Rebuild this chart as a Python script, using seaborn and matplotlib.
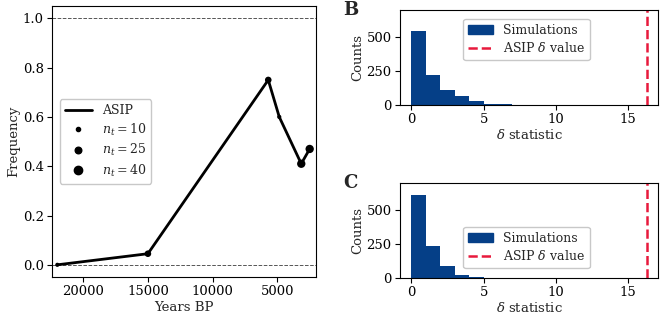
import numpy as np
import matplotlib
matplotlib.use("Agg")
import matplotlib.pyplot as plt
import seaborn as sns
from matplotlib.lines import Line2D
from matplotlib.patches import Patch

# ASIP allele frequency through time
years_bp = [22000, 15000, 5700, 4850, 3150, 2500]
asip_freq = [0.0, 0.045, 0.75, 0.60, 0.41, 0.47]
n_t = [10, 25, 25, 10, 40, 40]
legend_n = [10, 25, 40]

# simulated delta statistic histograms (counts per unit-width bin)
bin_edges = [0, 1, 2, 3, 4, 5, 6, 7]
counts_b = [544, 222, 111, 62, 27, 10, 5]
counts_c = [610, 237, 86, 24, 8, 3, 1]
asip_delta = 16.35

navy = "#053f87"
red = "#e8193c"
fs = 9.5
lfs = 9

sns.set_style("ticks")
plt.rcParams["font.family"] = ["DejaVu Serif"]
plt.rcParams["mathtext.fontset"] = "dejavuserif"
plt.rcParams["font.size"] = fs
plt.rcParams["axes.edgecolor"] = "black"
plt.rcParams["xtick.color"] = "black"
plt.rcParams["ytick.color"] = "black"
plt.rcParams["xtick.major.pad"] = 2.5
plt.rcParams["ytick.major.pad"] = 2.5
plt.rcParams["axes.labelpad"] = 1.5

fig = plt.figure(figsize=(6.6, 3.16), dpi=100)
ax_a = fig.add_axes([0.079, 0.123, 0.400, 0.858])
ax_b = fig.add_axes([0.606, 0.668, 0.391, 0.301])
ax_c = fig.add_axes([0.606, 0.120, 0.391, 0.301])

# panel A
ax_a.axhline(0, color="#555555", ls="--", lw=0.7, zorder=0)
ax_a.axhline(1, color="#555555", ls="--", lw=0.7, zorder=0)
sns.lineplot(x=years_bp, y=asip_freq, color="black", lw=2, ax=ax_a, sort=False)
k = 0.9
sns.scatterplot(x=years_bp, y=asip_freq, size=n_t, sizes=(k * 10, k * 40),
                size_norm=(10, 40), color="black", edgecolor="none",
                legend=False, ax=ax_a, zorder=3)
ax_a.set_xlim(22400, 2000)
ax_a.set_ylim(-0.05, 1.05)
ax_a.set_xticks([20000, 15000, 10000, 5000])
ax_a.set_yticks([0.0, 0.2, 0.4, 0.6, 0.8, 1.0])
ax_a.set_yticklabels(["0.0", "0.2", "0.4", "0.6", "0.8", "1.0"])
ax_a.set_xlabel("Years BP")
ax_a.set_ylabel("Frequency")
handles = [Line2D([], [], color="black", lw=2, label="ASIP")]
for n in legend_n:
    handles.append(Line2D([], [], ls="none", marker="o", color="black",
                          markersize=np.sqrt(k * n), label=rf"$n_t = {n}$"))
ax_a.legend(handles=handles, loc="center left", bbox_to_anchor=(0.005, 0.5),
            fontsize=lfs, frameon=True, edgecolor="#bbbbbb",
            labelspacing=0.35, handlelength=2.2)

# panels B and C
for ax, counts, label, loc in [(ax_b, counts_b, "B", "upper center"),
                               (ax_c, counts_c, "C", "lower center")]:
    centers = [e + 0.5 for e in bin_edges[:-1]]
    sns.histplot(x=centers, weights=counts, bins=bin_edges, color=navy,
                 alpha=1, edgecolor="none", linewidth=0, ax=ax)
    ax.axvline(asip_delta, color=red, ls="--", lw=1.8)
    ax.set_xlim(-0.8, 17.1)
    ax.set_ylim(0, 700)
    ax.set_xticks([0, 5, 10, 15])
    ax.set_yticks([0, 250, 500])
    ax.set_ylabel("Counts")
    ax.set_xlabel(r"$\delta$ statistic")
    hist_handles = [Patch(color=navy, label="Simulations"),
                    Line2D([], [], color=red, ls="--", lw=1.8,
                           label=r"ASIP $\delta$ value")]
    anchor = (0.49, 0.97) if loc == "upper center" else (0.49, 0.04)
    ax.legend(handles=hist_handles, loc=loc, bbox_to_anchor=anchor,
              fontsize=lfs, frameon=True, edgecolor="#bbbbbb",
              labelspacing=0.35)
    ax.text(-0.22, 1.0, label, transform=ax.transAxes, fontsize=13,
            fontweight="bold", va="center", ha="left")

fig.savefig("out.png", dpi=100)
